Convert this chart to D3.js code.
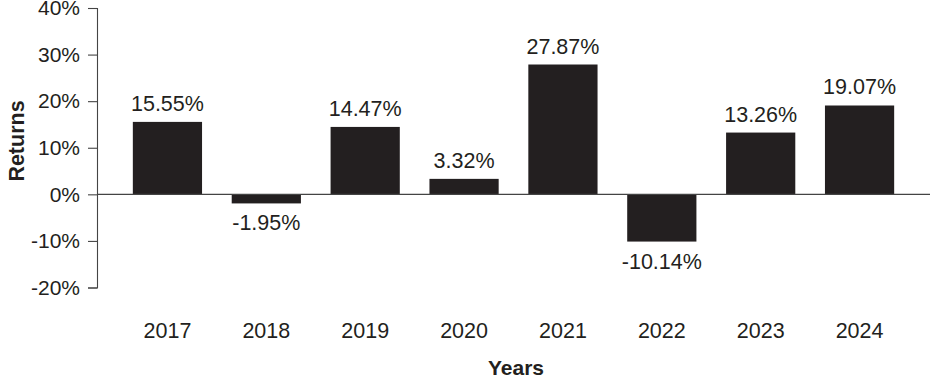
<!DOCTYPE html>
<html lang="en">
  <head>
    <meta charset="utf-8">
    <title>Returns by year</title>
    <script type="text/javascript" src="https://cdn.jsdelivr.net/npm/d3@7"></script>
    <style type="text/css">
      body { margin: 0; background: #fff; }
      text { font-family: "Liberation Sans", Arial, sans-serif; fill: #231f20; }
    </style>
  </head>
  <body>
    <script type="text/javascript">

      //Data
      var years = ["2017", "2018", "2019", "2020", "2021", "2022", "2023", "2024"];
      var returns = [15.55, -1.95, 14.47, 3.32, 27.87, -10.14, 13.26, 19.07];
      var yTicks = [40, 30, 20, 10, 0, -10, -20];

      //Width and height
      var w = 930;
      var h = 378;
      var plotLeft = 97, plotTop = 8, plotBottom = 287.5;

      var xScale = d3.scaleBand()
              .domain(years)
              .range([118, 909])
              .paddingInner(0.3)
              .paddingOuter(0.15);

      var yScale = d3.scaleLinear()
              .domain([-20, 40])
              .range([plotBottom, plotTop]);

      var svg = d3.select("body")
            .append("svg")
            .attr("width", w)
            .attr("height", h);

      //Y axis
      var yAxis = d3.axisLeft(yScale)
              .tickValues(yTicks)
              .tickSize(9)
              .tickPadding(8)
              .tickFormat(function(d) { return d + "%"; });

      var gy = svg.append("g")
         .attr("transform", "translate(" + plotLeft + ",0)")
         .call(yAxis);
      gy.select(".domain").attr("stroke", "#444").attr("stroke-width", 1.1);
      gy.selectAll(".tick line").attr("stroke", "#444").attr("stroke-width", 1.1);
      gy.selectAll(".tick text")
        .attr("font-size", 21)
        .attr("font-family", "Liberation Sans, Arial, sans-serif")
        .attr("fill", "#2a2a2a");

      //Bars
      svg.selectAll("rect.bar")
         .data(returns)
         .enter()
         .append("rect")
         .attr("class", "bar")
         .attr("x", function(d, i) { return xScale(years[i]); })
         .attr("y", function(d) { return yScale(Math.max(0, d)); })
         .attr("width", xScale.bandwidth())
         .attr("height", function(d) { return Math.abs(yScale(d) - yScale(0)); })
         .attr("fill", "#231f20");

      //Zero line
      svg.append("line")
         .attr("x1", plotLeft)
         .attr("x2", w)
         .attr("y1", yScale(0))
         .attr("y2", yScale(0))
         .attr("stroke", "#444")
         .attr("stroke-width", 1.1);

      //Value labels
      svg.selectAll("text.val")
         .data(returns)
         .enter()
         .append("text")
         .attr("class", "val")
         .attr("x", function(d, i) { return xScale(years[i]) + xScale.bandwidth() / 2; })
         .attr("y", function(d) { return d >= 0 ? yScale(d) - 11 : yScale(d) + 27; })
         .attr("text-anchor", "middle")
         .attr("font-size", 21.5)
         .attr("fill", "#2a2a2a")
         .text(function(d) { return d.toFixed(2) + "%"; });

      //Year labels
      svg.selectAll("text.year")
         .data(years)
         .enter()
         .append("text")
         .attr("class", "year")
         .attr("x", function(d) { return xScale(d) + xScale.bandwidth() / 2; })
         .attr("y", 338)
         .attr("text-anchor", "middle")
         .attr("font-size", 21.5)
         .attr("fill", "#2a2a2a")
         .text(function(d) { return d; });

      //Axis titles
      svg.append("text")
         .attr("x", 516)
         .attr("y", 375)
         .attr("text-anchor", "middle")
         .attr("font-size", 21)
         .attr("font-weight", "bold")
         .text("Years");

      svg.append("text")
         .attr("transform", "translate(24,141) rotate(-90)")
         .attr("text-anchor", "middle")
         .attr("font-size", 21.5)
         .attr("font-weight", "bold")
         .text("Returns");

    </script>
  </body>
</html>
